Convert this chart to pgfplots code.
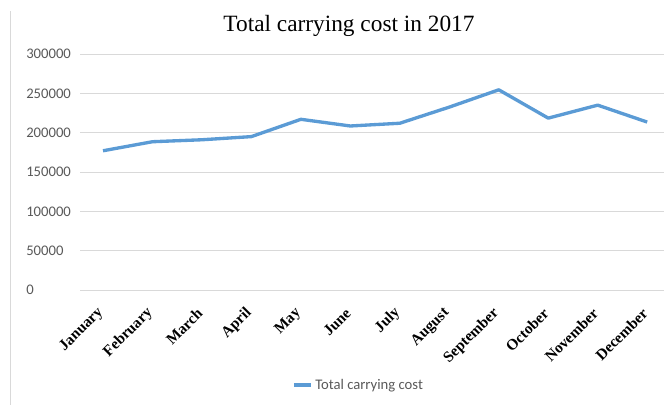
\documentclass[border=0pt]{standalone}
\usepackage{pgfplots}
\pgfplotsset{compat=1.18}
\usepackage{fontspec}
\setmainfont{Liberation Serif}
\newfontfamily\calibri{Carlito}
\definecolor{linecol}{HTML}{5B9BD5}
\definecolor{gridcol}{HTML}{D9D9D9}
\definecolor{labcol}{HTML}{595959}
\begin{document}
\begin{tikzpicture}
\path[use as bounding box] (0pt,0pt) rectangle (498pt,-303.75pt);
\draw[gridcol, line width=0.75pt] (7.5pt,-8.25pt) -- (7.5pt,-303.75pt);
\begin{axis}[
  at={(60pt,-217.5pt)}, anchor=south west,
  scale only axis, width=438pt, height=177pt,
  xmin=-0.465, xmax=11.34,
  ymin=0, ymax=300000,
  ytick={0,50000,100000,150000,200000,250000,300000},
  scaled y ticks=false,
  yticklabel style={/pgf/number format/fixed, /pgf/number format/1000 sep={}, /pgf/number format/assume math mode=true,
     font=\calibri\fontsize{11pt}{13pt}\selectfont, text=labcol, anchor=west, inner sep=0pt, xshift=-40.5pt},
  xtick={0,...,11},
  xticklabels={January,February,March,April,May,June,July,August,September,October,November,December},
  xticklabel style={font=\bfseries\fontsize{11.5pt}{13pt}\selectfont, inner sep=0pt, xshift=-1.5pt, yshift=-15.5pt, rotate=45, anchor=east},
  axis line style={draw=none},
  major tick length=0pt,
  ymajorgrids, grid style={gridcol, line width=0.75pt},
  title={Total carrying cost in 2017},
  title style={font=\fontsize{17.5pt}{20pt}\selectfont, at={(axis description cs:0.4606,1.0606)}, anchor=base, inner sep=0pt},
  legend style={draw=none, fill=none, at={(axis description cs:0.363,-0.4025)}, anchor=west, inner sep=0pt,
     font=\calibri\fontsize{11pt}{13pt}\selectfont, text=labcol},
  legend image code/.code={\draw[#1] (0pt,0pt) -- (12.75pt,0pt);},
  clip=false,
]
\addplot[linecol, line width=2.5pt, line join=round] coordinates {
 (0,177000) (1,188500) (2,191000) (3,195000) (4,217000) (5,208500)
 (6,212000) (7,232500) (8,254500) (9,218500) (10,235000) (11,213500)
};
\addlegendentry{Total carrying cost}
\end{axis}
\end{tikzpicture}
\end{document}
